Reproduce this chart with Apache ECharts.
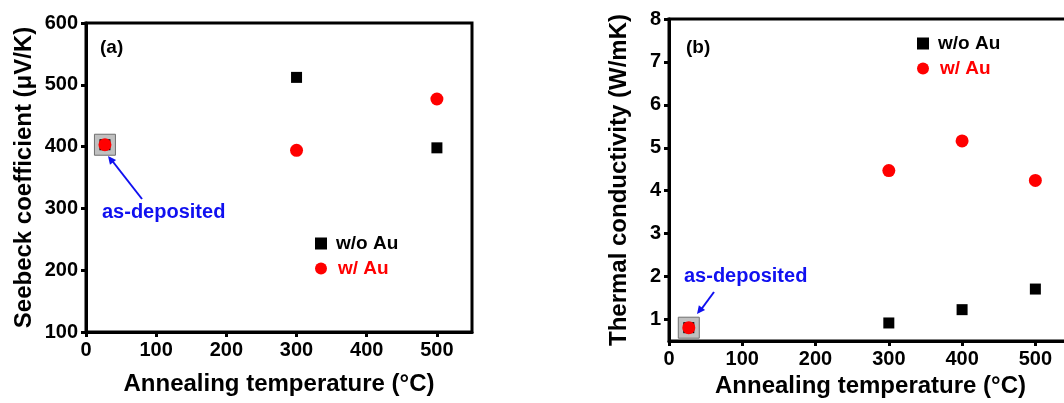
<!DOCTYPE html>
<html>
<head>
<meta charset="utf-8">
<script src="https://cdn.jsdelivr.net/npm/echarts@6/dist/echarts.min.js"></script>
<style>
  html, body { margin: 0; padding: 0; background: #fff; }
  #chart { width: 1064px; height: 403px; }
</style>
</head>
<body>
<div id="chart"></div>
<script>
// annealing temperatures (°C); 27 = as-deposited
var temps = [27, 300, 400, 500];
var seebeckTemps = [27, 300, 500];
// Seebeck coefficient (µV/K)
var seebeckWoAu = [403, 512, 398];
var seebeckWAu = [403, 394, 477];
// thermal conductivity (W/mK)
var kappaWoAu = [0.81, 0.92, 1.23, 1.71];
var kappaWAu = [0.81, 4.47, 5.16, 4.24];
var xTicks = [0, 100, 200, 300, 400, 500];
var seebeckTicks = [100, 200, 300, 400, 500, 600];
var kappaTicks = [1, 2, 3, 4, 5, 6, 7, 8];

function pairs(xs, ys) {
  return xs.map(function (x, i) { return [x, ys[i]]; });
}

var font = 'Liberation Sans, Arial, sans-serif';
var myChart = echarts.init(document.getElementById('chart'));

function xAxisCfg(gridIndex, nameGap) {
  return {
    type: 'value', gridIndex: gridIndex, min: 0, max: 550,
    name: 'Annealing temperature (°C)', nameLocation: 'middle', nameGap: nameGap,
    nameTextStyle: { fontFamily: font, fontWeight: 'bold', fontSize: 24, color: '#000' },
    axisLine: { lineStyle: { color: '#000', width: 3 } },
    axisTick: { customValues: xTicks, length: 5, lineStyle: { color: '#000', width: 3 } },
    axisLabel: { customValues: xTicks, margin: 8, fontFamily: font, fontWeight: 'bold', fontSize: 20, color: '#000' },
    splitLine: { show: false }
  };
}

function yAxisCfg(gridIndex, min, max, ticks, name, nameGap) {
  return {
    type: 'value', gridIndex: gridIndex, min: min, max: max,
    name: name, nameLocation: 'middle', nameGap: nameGap,
    nameTextStyle: { fontFamily: font, fontWeight: 'bold', fontSize: 24, color: '#000' },
    axisLine: { lineStyle: { color: '#000', width: 3 } },
    axisTick: { customValues: ticks, length: 5, lineStyle: { color: '#000', width: 3 } },
    axisLabel: { customValues: ticks, margin: 8, fontFamily: font, fontWeight: 'bold', fontSize: 20, color: '#000' },
    splitLine: { show: false }
  };
}

function legendCfg(left, top) {
  return {
    left: left, top: top, orient: 'vertical', itemGap: 6,
    itemWidth: 12, itemHeight: 12,
    textStyle: { fontFamily: font, fontWeight: 'bold', fontSize: 19, color: '#000', padding: [0, 0, 0, 4] },
    data: [
      { name: 'w/o Au' },
      { name: 'w/ Au', textStyle: { color: '#ff0000', padding: [0, 0, 0, 6] } }
    ]
  };
}

function highlight(xIdx, yIdx, point) {
  return {
    type: 'scatter', xAxisIndex: xIdx, yAxisIndex: yIdx, name: 'as-deposited',
    symbol: 'rect', symbolSize: 21, z: 1, silent: true,
    itemStyle: { color: '#c0c0c0', borderColor: '#707070', borderWidth: 1, opacity: 1 },
    data: [point]
  };
}

function arrow(x1, y1, x2, y2) {
  return {
    type: 'line', silent: true,
    shape: { x1: x1, y1: y1, x2: x2, y2: y2 },
    style: { stroke: '#1010f0', lineWidth: 2 }
  };
}

function arrowHead(x1, y1, x2, y2) {
  var a = Math.atan2(y2 - y1, x2 - x1), L = 9, w = 0.45;
  return {
    type: 'polygon', silent: true,
    shape: { points: [[x2, y2],
      [x2 - L * Math.cos(a - w), y2 - L * Math.sin(a - w)],
      [x2 - L * Math.cos(a + w), y2 - L * Math.sin(a + w)]] },
    style: { fill: '#1010f0' }
  };
}

var option = {
  animation: false,
  grid: [
    { left: 86, top: 23, width: 386, height: 309, show: true, borderColor: '#000', borderWidth: 3,
      backgroundColor: 'transparent', outerBoundsMode: 'none' },
    { left: 669, top: 19, width: 403, height: 322, show: true, borderColor: '#000', borderWidth: 3,
      backgroundColor: 'transparent', outerBoundsMode: 'none' }
  ],
  xAxis: [xAxisCfg(0, 40), xAxisCfg(1, 31)],
  yAxis: [
    yAxisCfg(0, 100, 600, seebeckTicks, 'Seebeck coefficient (μV/K)', 50),
    yAxisCfg(1, 0.5, 8, kappaTicks, 'Thermal conductivity (W/mK)', 38)
  ],
  legend: [legendCfg(310, 229), legendCfg(912, 29)],
  series: [
    highlight(0, 0, [seebeckTemps[0], seebeckWoAu[0]]),
    {
      name: 'w/o Au', type: 'scatter', xAxisIndex: 0, yAxisIndex: 0,
      symbol: 'rect', symbolSize: 11, z: 2, itemStyle: { color: '#000', opacity: 1 },
      data: pairs(seebeckTemps, seebeckWoAu)
    },
    {
      name: 'w/ Au', type: 'scatter', xAxisIndex: 0, yAxisIndex: 0,
      symbol: 'circle', symbolSize: 13, z: 3, itemStyle: { color: '#ff0000', opacity: 1 },
      data: pairs(seebeckTemps, seebeckWAu)
    },
    highlight(1, 1, [temps[0], kappaWoAu[0]]),
    {
      name: 'w/o Au', type: 'scatter', xAxisIndex: 1, yAxisIndex: 1,
      symbol: 'rect', symbolSize: 11, z: 2, itemStyle: { color: '#000', opacity: 1 },
      data: pairs(temps, kappaWoAu)
    },
    {
      name: 'w/ Au', type: 'scatter', xAxisIndex: 1, yAxisIndex: 1,
      symbol: 'circle', symbolSize: 13, z: 3, itemStyle: { color: '#ff0000', opacity: 1 },
      data: pairs(temps, kappaWAu)
    }
  ],
  graphic: [
    { type: 'text', left: 100, top: 38, style: { text: '(a)', font: 'bold 19px ' + font, fill: '#000' } },
    { type: 'text', left: 686, top: 38, style: { text: '(b)', font: 'bold 19px ' + font, fill: '#000' } },
    { type: 'text', left: 102, top: 202, style: { text: 'as-deposited', font: 'bold 20px ' + font, fill: '#1010f0' } },
    { type: 'text', left: 684, top: 266, style: { text: 'as-deposited', font: 'bold 20px ' + font, fill: '#1010f0' } },
    arrow(142, 199, 110, 158), arrowHead(142, 199, 108, 156),
    arrow(714, 292, 700, 311), arrowHead(714, 292, 697, 314)
  ]
};
myChart.setOption(option);
</script>
</body>
</html>
